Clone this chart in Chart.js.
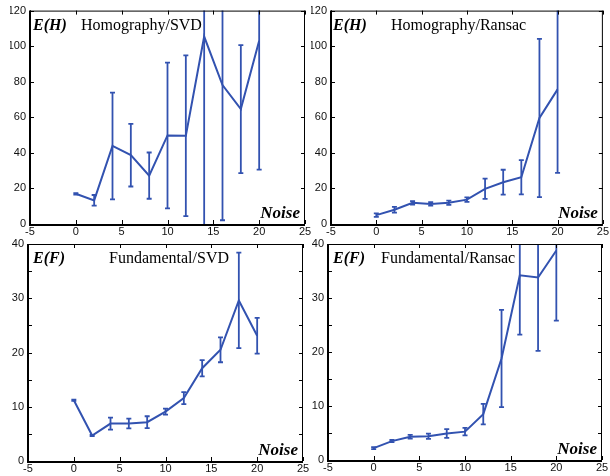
<!DOCTYPE html>
<html>
<head>
<meta charset="utf-8">
<script src="https://cdn.jsdelivr.net/npm/chart.js@4.4.1/dist/chart.umd.min.js"></script>
<style>
html,body{margin:0;padding:0;background:#fff;}
#wrap{position:relative;width:610px;height:476px;overflow:hidden;}
#wrap canvas{position:absolute;left:0;top:0;}
</style>
</head>
<body>
<div id="wrap">
<canvas id="c1" width="610" height="476"></canvas>
<canvas id="c2" width="610" height="476"></canvas>
<canvas id="c3" width="610" height="476"></canvas>
<canvas id="c4" width="610" height="476"></canvas>
</div>
<script>
// ---- data ----
const noise = [0, 2, 4, 6, 8, 10, 12, 14, 16, 18, 20];
const xTicks = [-5, 0, 5, 10, 15, 20, 25];

const hSvdMean = [17, 13.3, 43.9, 38.7, 27.2, 49.8, 49.6, 105.4, 78.1, 64.6, 103.1];
const hSvdErr  = [0.4, 3, 30, 17.6, 13, 41, 45.2, 115, 76, 36, 72.5];

const hRanMean = [5.0, 8.0, 11.9, 11.3, 12.0, 13.7, 19.8, 23.5, 26.3, 59.6, 75.7];
const hRanErr  = [1.0, 1.6, 1.0, 1.0, 1.2, 1.3, 5.7, 7.0, 9.6, 44.5, 47];

const fSvdMean = [11.2, 4.7, 6.9, 6.9, 7.15, 9.1, 11.6, 17.1, 20.5, 29.6, 23.1];
const fSvdErr  = [0.1, 0.1, 1.1, 0.9, 1.1, 0.55, 1.1, 1.5, 2.3, 8.8, 3.3];

const fRanMean = [2.2, 3.5, 4.3, 4.4, 4.9, 5.25, 8.5, 18.8, 34.2, 33.8, 38.8];
const fRanErr  = [0.2, 0.2, 0.35, 0.5, 0.8, 0.7, 1.9, 9, 11, 13.6, 13];

const tagH = 'E(H)';
const tagF = 'E(F)';
const titles = ['Homography/SVD', 'Homography/Ransac', 'Fundamental/SVD', 'Fundamental/Ransac'];
const xLabel = 'Noise';

// ---- styling / layout ----
const BLUE = '#3252b0';
const W = 610, H = 476;
const Y_W = 20, X_H = 14;

const panels = [
  {id:'c1', area:{l:30, r:305, t:7, b:224}, yMax:120, yStep:20, yLab:20, tag:tagH, title:titles[0], tagDx:3, titleDx:51, mean:hSvdMean, err:hSvdErr},
  {id:'c2', area:{l:331, r:605, t:7, b:224}, yMax:120, yStep:20, yLab:20, tag:tagH, title:titles[1], tagDx:2, titleDx:60, mean:hRanMean, err:hRanErr},
  {id:'c3', area:{l:28, r:303, t:244, b:461}, yMax:40, yStep:5, yLab:10, tag:tagF, title:titles[2], tagDx:5, titleDx:81, mean:fSvdMean, err:fSvdErr},
  {id:'c4', area:{l:328, r:602, t:244, b:460}, yMax:40, yStep:5, yLab:10, tag:tagF, title:titles[3], tagDx:5, titleDx:53, mean:fRanMean, err:fRanErr}
];

const decoPlugin = {
  id: 'deco',
  afterDatasetsDraw(chart) {
    const p = chart.options.plugins.deco;
    const ctx = chart.ctx;
    const a = chart.chartArea;
    const xs = chart.scales.x, ys = chart.scales.y;
    // error bars
    ctx.save();
    ctx.beginPath();
    ctx.rect(a.left, a.top, a.right - a.left, a.bottom - a.top + 1);
    ctx.clip();
    ctx.strokeStyle = BLUE;
    ctx.lineWidth = 1.8;
    ctx.lineCap = 'butt';
    p.xs.forEach((xv, i) => {
      const px = xs.getPixelForValue(xv);
      const hi = ys.getPixelForValue(p.mean[i] + p.err[i]);
      const lo = ys.getPixelForValue(p.mean[i] - p.err[i]);
      ctx.beginPath();
      ctx.moveTo(px, hi); ctx.lineTo(px, lo);
      ctx.moveTo(px - 2.5, hi); ctx.lineTo(px + 2.5, hi);
      ctx.moveTo(px - 2.5, lo); ctx.lineTo(px + 2.5, lo);
      ctx.stroke();
    });
    ctx.restore();

    // frame and inward ticks
    ctx.save();
    ctx.strokeStyle = '#000';
    ctx.lineWidth = 1;
    ctx.beginPath();
    ctx.moveTo(a.left, a.top + 0.5); ctx.lineTo(a.right, a.top + 0.5);
    ctx.moveTo(a.right - 0.5, a.top); ctx.lineTo(a.right - 0.5, a.bottom);
    xs.ticks.forEach(t => {
      const px = Math.round(xs.getPixelForValue(t.value)) + 0.5;
      ctx.moveTo(px, a.bottom); ctx.lineTo(px, a.bottom - 4);
      ctx.moveTo(px, a.top); ctx.lineTo(px, a.top + 4);
    });
    ys.ticks.forEach(t => {
      const py = Math.round(ys.getPixelForValue(t.value)) + 0.5;
      ctx.moveTo(a.left, py); ctx.lineTo(a.left + 4, py);
      ctx.moveTo(a.right, py); ctx.lineTo(a.right - 4, py);
    });
    ctx.stroke();
    ctx.lineWidth = 2;
    ctx.beginPath();
    ctx.moveTo(a.left, a.top); ctx.lineTo(a.left, a.bottom + 1);
    ctx.lineTo(a.right, a.bottom + 1);
    ctx.stroke();
    ctx.restore();

    // texts
    ctx.save();
    ctx.fillStyle = '#000';
    ctx.textBaseline = 'alphabetic';
    ctx.textAlign = 'left';
    ctx.font = 'italic bold 16px "Liberation Serif", "Times New Roman", serif';
    ctx.fillText(p.tag, a.left + p.tagDx, a.top + 19);
    ctx.font = '16px "Liberation Serif", "Times New Roman", serif';
    ctx.fillText(p.title, a.left + p.titleDx, a.top + 19);
    ctx.font = 'italic bold 17px "Liberation Serif", "Times New Roman", serif';
    ctx.textAlign = 'right';
    ctx.fillText(p.xlab, a.right - 5, a.bottom - 6);
    ctx.restore();
  }
};

panels.forEach(pn => {
  const data = noise.map((n, i) => ({x: n, y: pn.mean[i]}));
  new Chart(document.getElementById(pn.id), {
    type: 'line',
    data: {
      datasets: [{
        data: data,
        borderColor: BLUE,
        borderWidth: 2,
        pointRadius: 0,
        tension: 0,
        fill: false,
        clip: {left: 0, right: 0, top: 2, bottom: 0}
      }]
    },
    options: {
      responsive: false,
      animation: false,
      devicePixelRatio: 1,
      layout: {
        padding: {
          left: pn.area.l - Y_W,
          right: W - pn.area.r,
          top: pn.area.t,
          bottom: H - pn.area.b - X_H
        }
      },
      plugins: {
        legend: {display: false},
        tooltip: {enabled: false},
        deco: {xs: noise, mean: pn.mean, err: pn.err, tag: pn.tag, title: pn.title, xlab: xLabel, tagDx: pn.tagDx, titleDx: pn.titleDx}
      },
      scales: {
        x: {
          type: 'linear',
          min: xTicks[0],
          max: xTicks[xTicks.length - 1],
          afterBuildTicks: s => { s.ticks = xTicks.map(v => ({value: v})); },
          afterFit: s => { s.height = X_H; },
          grid: {display: false, drawTicks: false},
          border: {display: false},
          ticks: {
            padding: 1,
            color: '#111',
            font: {family: '"Liberation Sans", Arial, sans-serif', size: 11},
            maxRotation: 0,
            autoSkip: false
          }
        },
        y: {
          type: 'linear',
          min: 0,
          max: pn.yMax,
          afterFit: s => { s.width = Y_W; },
          grid: {display: false, drawTicks: false},
          border: {display: false},
          ticks: {
            stepSize: pn.yStep,
            padding: 4,
            color: '#111',
            autoSkip: false,
            font: {family: '"Liberation Sans", Arial, sans-serif', size: 11},
            callback: v => (v % pn.yLab === 0 ? String(v) : '')
          }
        }
      }
    },
    plugins: [decoPlugin]
  });
});
</script>
</body>
</html>
